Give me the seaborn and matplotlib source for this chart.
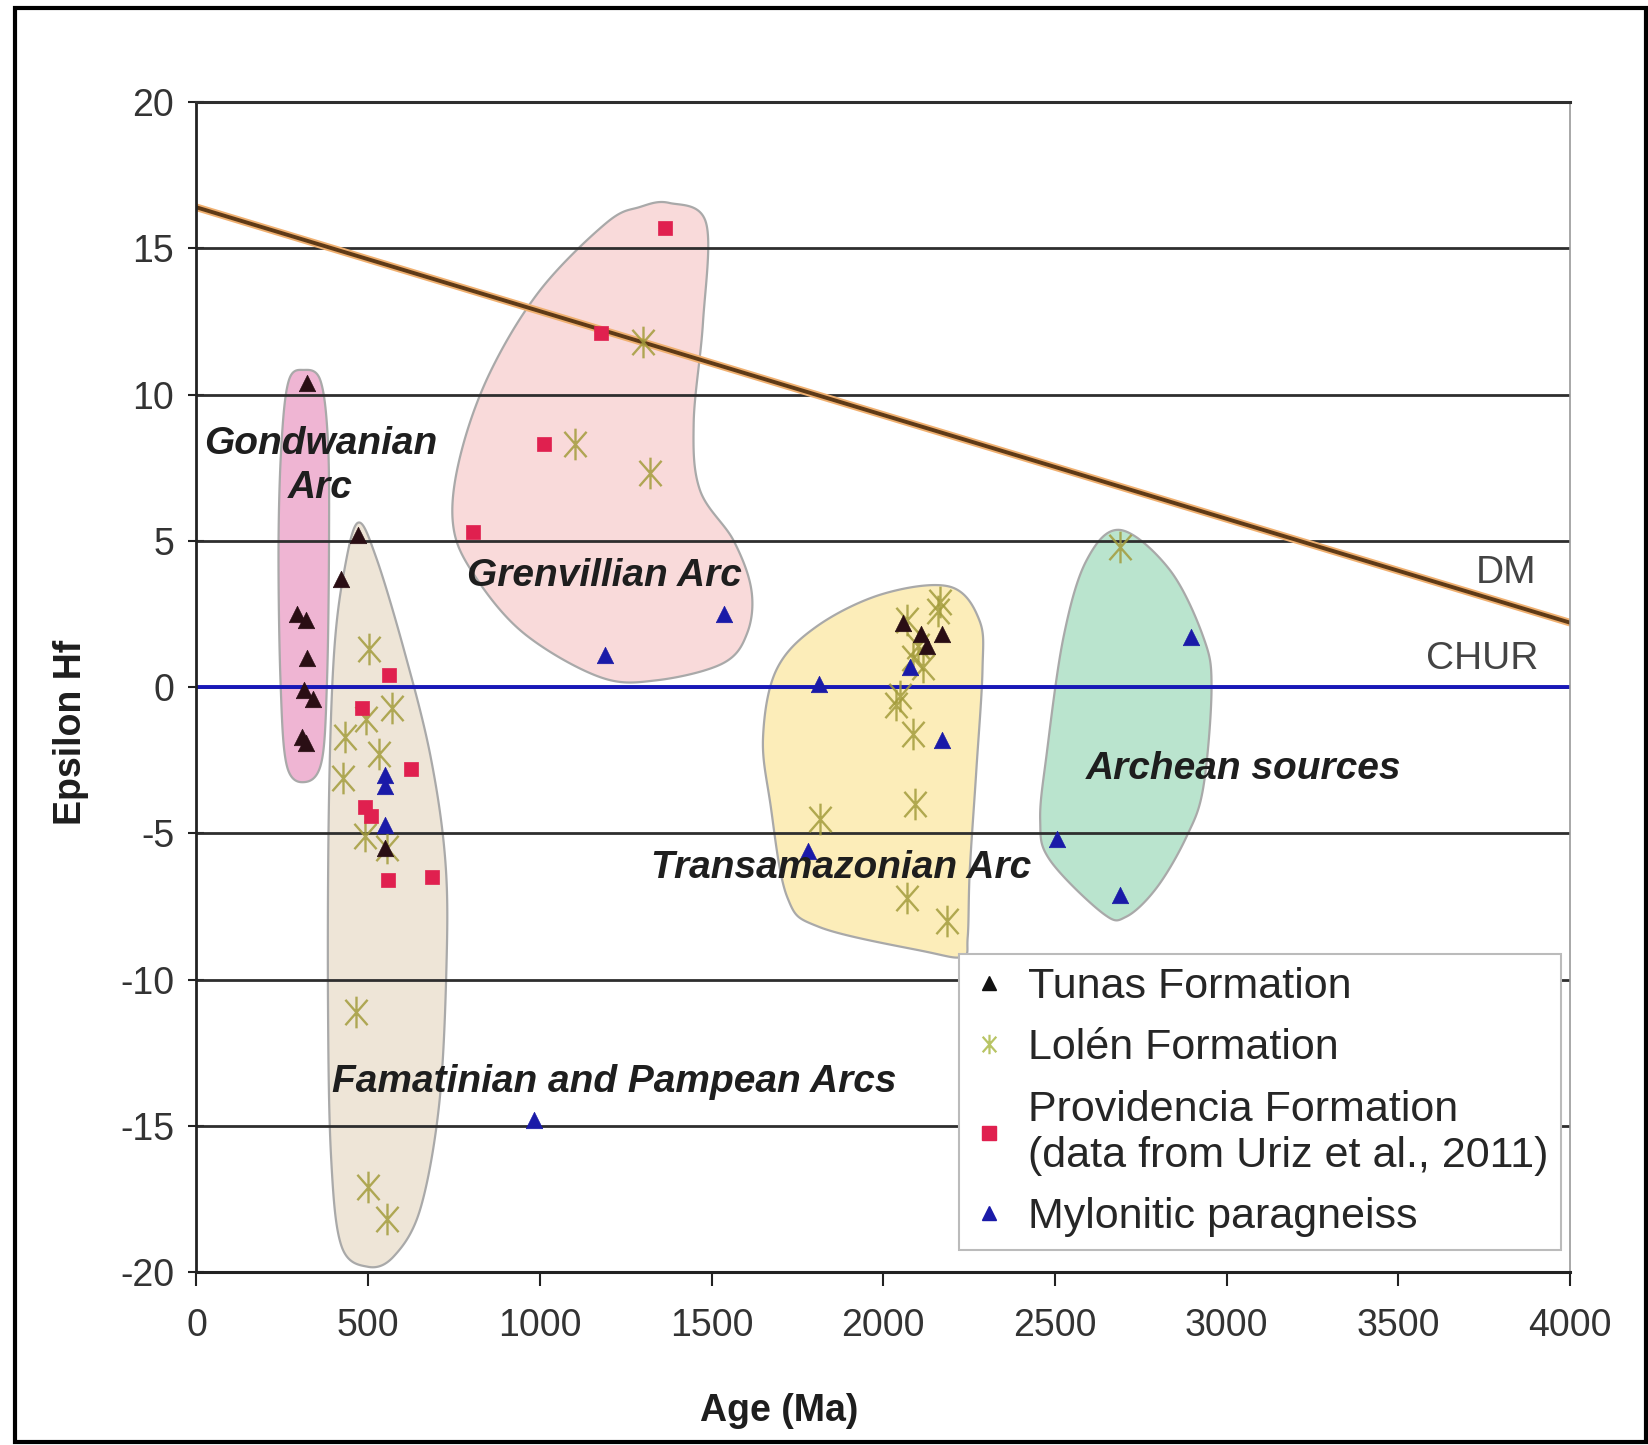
import numpy as np
import pandas as pd
import matplotlib
matplotlib.use("Agg")
import matplotlib.pyplot as plt
from matplotlib.path import Path
from matplotlib.patches import Polygon, Rectangle
import seaborn as sns

# ---------------------------------------------------------------- data
tunas_age = [321, 471, 422, 294, 318, 321, 312, 340, 306, 318, 550,
             2057, 2111, 2127, 2170]
tunas_hf = [10.4, 5.2, 3.7, 2.5, 2.3, 1.0, -0.1, -0.4, -1.7, -1.9, -5.5,
            2.2, 1.8, 1.4, 1.8]

lolen_age = [1301, 1102, 1322, 502, 493, 569, 432, 532, 428, 490, 554,
             465, 499, 554,
             2164, 2160, 2068, 2102, 2087, 2115, 2048, 2038, 2087, 2093,
             1815, 2068, 2185, 2690]
lolen_hf = [11.8, 8.3, 7.3, 1.3, -1.1, -0.7, -1.7, -2.3, -3.1, -5.1, -5.5,
            -11.1, -17.1, -18.2,
            2.9, 2.6, 2.3, 1.4, 1.0, 0.7, -0.3, -0.6, -1.6, -4.0,
            -4.5, -7.2, -8.0, 4.8]

prov_age = [1365, 1178, 1013, 805, 560, 481, 624, 490, 508, 557, 686]
prov_hf = [15.7, 12.1, 8.3, 5.3, 0.4, -0.7, -2.8, -4.1, -4.4, -6.6, -6.5]

mylo_age = [550, 550, 550, 982, 1190, 1536, 1812, 2078, 2170, 1781,
            2506, 2690, 2895]
mylo_hf = [-3.0, -3.4, -4.7, -14.8, 1.1, 2.5, 0.1, 0.7, -1.8, -5.6,
           -5.2, -7.1, 1.7]

# reference evolution lines (age in Ma, epsilon Hf)
dm_age = [0, 4000]
dm_hf = [16.4, 2.2]
chur_age = [0, 4000]
chur_hf = [0, 0]

x_ticks = [0, 500, 1000, 1500, 2000, 2500, 3000, 3500, 4000]
y_ticks = [-20, -15, -10, -5, 0, 5, 10, 15, 20]

legend_labels = ["Tunas Formation", "Lolén Formation",
                 "Providencia Formation\n(data from Uriz et al., 2011)",
                 "Mylonitic paragneiss"]

# source-field outlines (age, epsilon Hf)
gondwanian_field = [(312, 10.84), (361, 10.48), (383, 8.39), (386, 4.80),
                    (380, 0.13), (364, -2.57), (315, -3.25), (263, -2.68),
                    (245, 0.13), (239, 4.80), (248, 8.39), (269, 10.48)]
famatinian_field = [(471, 5.62), (523, 4.44), (606, 1.20), (682, -2.39),
                    (725, -5.98), (728, -9.58), (707, -14.25), (652, -17.84),
                    (575, -19.46), (499, -19.82), (422, -19.10),
                    (392, -16.05), (383, -10.66), (386, -3.83), (401, 1.20),
                    (432, 4.08)]
grenvillian_field = [(1377, 16.55), (1484, 15.87), (1475, 12.45),
                     (1448, 9.04), (1466, 6.74), (1564, 5.01), (1616, 3.32),
                     (1604, 1.85), (1533, 0.81), (1340, 0.23), (1175, 0.34),
                     (952, 1.85), (805, 3.90), (747, 5.59), (768, 7.89),
                     (854, 10.73), (1001, 13.57), (1194, 15.87),
                     (1291, 16.41)]
transamazonian_field = [(2194, 3.43), (2280, 2.28), (2289, 0.59),
                        (2271, -2.86), (2252, -6.27), (2246, -8.54),
                        (2231, -9.22), (2121, -9.04), (1815, -8.21),
                        (1720, -7.17), (1671, -3.97), (1650, -1.71),
                        (1689, 0.59), (1806, 2.07), (1998, 3.18)]
archean_field = [(2690, 5.37), (2834, 4.01), (2932, 1.71), (2956, -0.02),
                 (2932, -3.43), (2883, -5.12), (2797, -6.85), (2708, -7.85),
                 (2641, -7.75), (2485, -5.91), (2457, -4.55), (2476, -2.28),
                 (2525, 1.71), (2592, 4.33)]

# ---------------------------------------------------------------- style
sns.set_style("white")
plt.rcParams["font.family"] = ["Liberation Sans", "DejaVu Sans"]

fig = plt.figure(figsize=(16.48, 14.45), dpi=100)
ax = fig.add_axes([0.1192, 0.1197, 0.8335, 0.8097])
ax.set_xlim(0, 4000)
ax.set_ylim(-20, 20)

AX_W, AX_H = 1373.0, 1170.0


def smooth_closed(pts, n=24):
    """Closed Catmull-Rom curve through the outline points (in screen-like units)."""
    P = np.asarray(pts, dtype=float)
    P = np.column_stack([P[:, 0] / 4000 * AX_W, (P[:, 1] + 20) / 40 * AX_H])
    N = len(P)
    t = np.linspace(0, 1, n, endpoint=False)[:, None]
    segs = []
    for i in range(N):
        p0, p1, p2, p3 = P[(i - 1) % N], P[i], P[(i + 1) % N], P[(i + 2) % N]
        segs.append(0.5 * (2 * p1 + (-p0 + p2) * t
                           + (2 * p0 - 5 * p1 + 4 * p2 - p3) * t ** 2
                           + (-p0 + 3 * p1 - 3 * p2 + p3) * t ** 3))
    S = np.vstack(segs)
    return np.column_stack([S[:, 0] / AX_W * 4000, S[:, 1] / AX_H * 40 - 20])


fields = [
    (gondwanian_field, "#EFB5D3"),
    (famatinian_field, "#EEE5D7"),
    (grenvillian_field, "#F9DADA"),
    (transamazonian_field, "#FCEDB9"),
    (archean_field, "#BAE4CE"),
]
for outline, fc in fields:
    ax.add_patch(Polygon(smooth_closed(outline), closed=True, facecolor=fc,
                         edgecolor="#A9A9A9", linewidth=1.6, zorder=0.5))

# horizontal grid
for yv in y_ticks[1:-1]:
    ax.axhline(yv, color="#2E2E2E", linewidth=2.0, zorder=1)

# DM and CHUR reference lines
sns.lineplot(x=dm_age, y=dm_hf, ax=ax, color="#F0B070", linewidth=5.5,
             zorder=1.9, legend=False)
sns.lineplot(x=dm_age, y=dm_hf, ax=ax, color="#5E3A17", linewidth=2.8,
             zorder=2, legend=False)
sns.lineplot(x=chur_age, y=chur_hf, ax=ax, color="#1818B8", linewidth=2.8,
             zorder=2, legend=False)

# six-armed asterisk (vertical bar + cross)
star = Path([(0, 1), (0, -1), (-0.7, 0.8), (0.7, -0.8),
             (-0.7, -0.8), (0.7, 0.8)],
            [Path.MOVETO, Path.LINETO, Path.MOVETO, Path.LINETO,
             Path.MOVETO, Path.LINETO])

lolen_c = "#A39C3C"
sns.scatterplot(x=lolen_age, y=lolen_hf, ax=ax, marker=star, s=520,
                color=lolen_c, edgecolor=lolen_c, linewidth=1.7, alpha=0.85,
                zorder=3, legend=False)
sns.scatterplot(x=prov_age, y=prov_hf, ax=ax, marker="s", s=110,
                color="#E0204F", edgecolor="#E0204F", linewidth=0.5,
                zorder=4, legend=False)
sns.scatterplot(x=tunas_age, y=tunas_hf, ax=ax, marker="^", s=140,
                color="#2A0E14", edgecolor="#2A0E14", linewidth=0.5,
                zorder=5, legend=False)
sns.scatterplot(x=mylo_age, y=mylo_hf, ax=ax, marker="^", s=140,
                color="#1A1AA8", edgecolor="#1A1AA8", linewidth=0.5,
                zorder=5, legend=False)

# field names
lab_kw = dict(fontsize=28, fontweight="bold", fontstyle="italic",
              color="#1E1E1E", ha="center", va="center", zorder=6)
ax.text(361, 7.55, "Gondwanian\nArc", linespacing=1.3, **lab_kw)
ax.text(1187, 3.8, "Grenvillian Arc", **lab_kw)
ax.text(1876, -6.2, "Transamazonian Arc", **lab_kw)
ax.text(3048, -2.8, "Archean sources", **lab_kw)
ax.text(1218, -13.5, "Famatinian and Pampean Arcs", **lab_kw)

ax.text(3813, 3.9, "DM", fontsize=28, color="#444444",
        ha="center", va="center", zorder=6)
ax.text(3743, 0.95, "CHUR", fontsize=28, color="#444444",
        ha="center", va="center", zorder=6)

# axes, ticks, labels
ax.set_xticks(x_ticks)
ax.set_yticks(y_ticks)
ax.set_xticklabels([str(v) for v in x_ticks])
ax.set_yticklabels([str(v) for v in y_ticks])
for lab in ax.get_xticklabels() + ax.get_yticklabels():
    lab.set_fontsize(27)
    lab.set_color("#333333")
ax.tick_params(axis="x", direction="out", length=10, width=1.5,
               color="#222222", pad=16, bottom=True)
ax.tick_params(axis="y", direction="inout", length=12, width=1.5,
               color="#222222", pad=10, left=True)

ax.spines["left"].set_color("#222222")
ax.spines["left"].set_linewidth(2)
ax.spines["bottom"].set_color("#222222")
ax.spines["bottom"].set_linewidth(2.2)
ax.spines["top"].set_color("#2E2E2E")
ax.spines["top"].set_linewidth(2.2)
ax.spines["right"].set_color("#999999")
ax.spines["right"].set_linewidth(1.2)

ax.set_xlabel("Age (Ma)", fontsize=27, fontweight="bold", color="#1E1E1E")
ax.set_ylabel("Epsilon Hf", fontsize=27, fontweight="bold", color="#1E1E1E")
ax.xaxis.set_label_coords(0.424, -0.103)
ax.yaxis.set_label_coords(-0.078, 0.461)

# legend
handles = [
    plt.Line2D([], [], linestyle="none", marker="^", markersize=10,
               color="#111111"),
    plt.Line2D([], [], linestyle="none", marker=star, markersize=14,
               markeredgewidth=1.6, color="#B8C464"),
    plt.Line2D([], [], linestyle="none", marker="s", markersize=10,
               color="#E0204F"),
    plt.Line2D([], [], linestyle="none", marker="^", markersize=10,
               color="#1A1AA8"),
]
leg = ax.legend(handles, legend_labels, loc="upper left",
                bbox_to_anchor=(0.555, 0.272), fontsize=31, frameon=True,
                fancybox=False, framealpha=1, edgecolor="#BBBBBB",
                handlelength=0.8, handletextpad=0.5, labelspacing=0.5,
                borderpad=0.3, borderaxespad=0)
leg.get_frame().set_linewidth(1.5)
leg.set_zorder(7)

# outer frame around the figure
fig.patches.append(Rectangle((0.009, 0.002), 0.99, 0.9925,
                             transform=fig.transFigure, fill=False,
                             edgecolor="black", linewidth=3))

fig.savefig("out.png", dpi=100, facecolor="white")
